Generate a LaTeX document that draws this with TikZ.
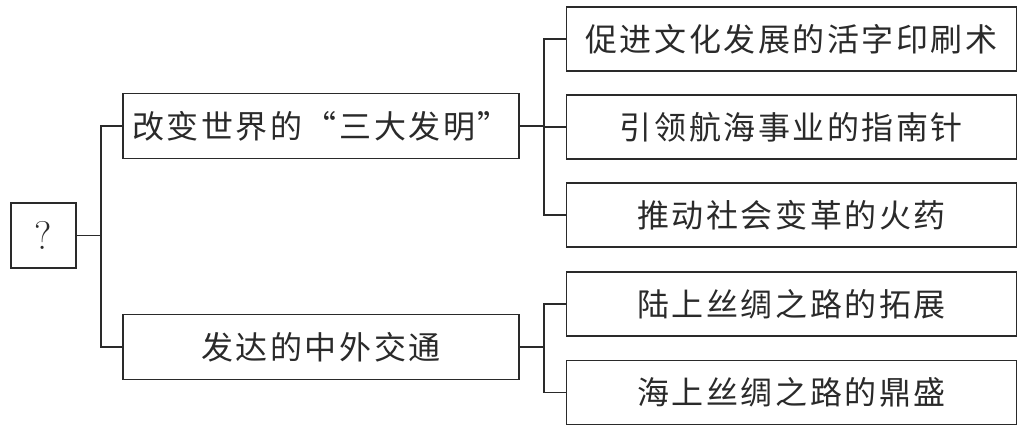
\documentclass[tikz,border=0pt]{standalone}
\usepackage{fontspec}
\newfontfamily\cjk[LetterSpace=8]{Noto Sans CJK SC}
\definecolor{ink}{HTML}{2A2A2A}
\begin{document}
\begin{tikzpicture}[x=1pt,y=-1pt,
  box/.style={draw=ink,line width=1.3pt,rectangle,inner sep=0pt,text=ink,
    font=\cjk\fontsize{32}{36}\selectfont},
  lbox/.style={box,minimum width=396pt,minimum height=65pt},
  rbox/.style={box,minimum width=450pt,minimum height=64pt},
  link/.style={draw=ink,line width=1.3pt}]
\useasboundingbox (0,0) rectangle (1031,430);
\node[box,minimum width=65pt,minimum height=65pt,font=\fontsize{40}{42}\selectfont] (q) at (43.5,235.5) {?};
\node[lbox] (b1) at (321,126) {改变世界的“三大发明”};
\node[lbox] (b2) at (321,347) {发达的中外交通};
\node[rbox] (r1) at (791.5,39) {促进文化发展的活字印刷术};
\node[rbox] (r2) at (791.5,127) {引领航海事业的指南针};
\node[rbox] (r3) at (791.5,215) {推动社会变革的火药};
\node[rbox] (r4) at (791.5,304) {陆上丝绸之路的拓展};
\node[rbox] (r5) at (791.5,392.5) {海上丝绸之路的鼎盛};
\coordinate (s1) at (101,0);
\coordinate (s2) at (544,0);
\draw[link] (q.east) -- (q.east -| s1);
\draw[link] (b1.west) -- (b1.west -| s1) |- (b2.west);
\draw[link] (b1.east) -- (b1.east -| s2);
\draw[link] (r1.west) -- (r1.west -| s2) |- (r3.west);
\draw[link] (r2.west) -- (r2.west -| s2);
\draw[link] (b2.east) -- (b2.east -| s2);
\draw[link] (r4.west) -- (r4.west -| s2) |- (r5.west);
\end{tikzpicture}
\end{document}
